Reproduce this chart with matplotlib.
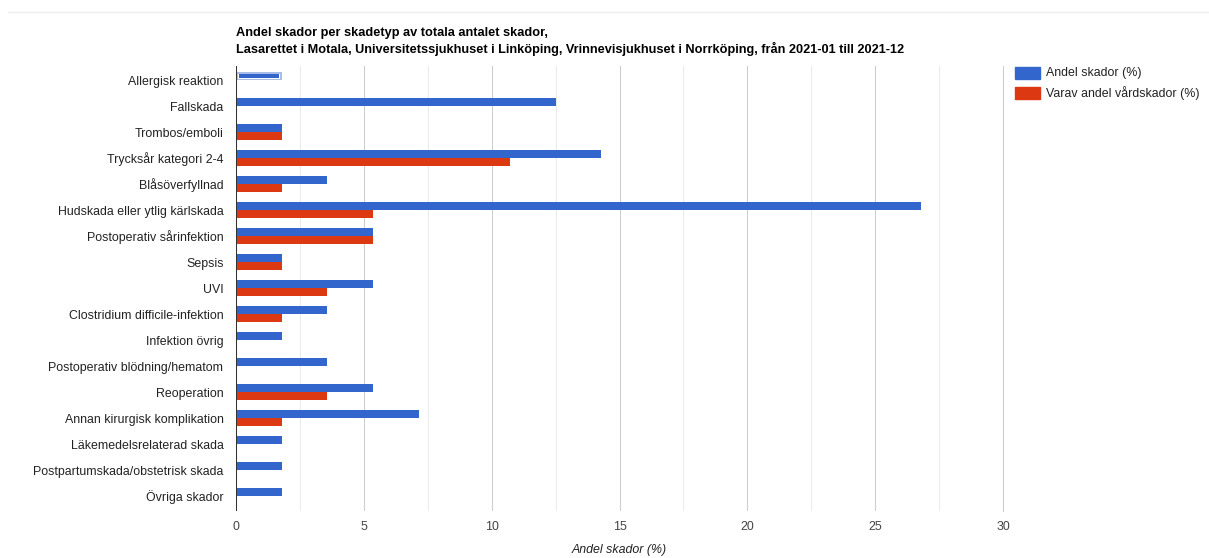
import matplotlib
matplotlib.use("Agg")
import matplotlib.pyplot as plt
from matplotlib.lines import Line2D
import numpy as np

plt.rcParams['font.family'] = ['Liberation Sans', 'DejaVu Sans']

categories = [
    "Allergisk reaktion", "Fallskada", "Trombos/emboli", "Trycksår kategori 2-4",
    "Blåsöverfyllnad", "Hudskada eller ytlig kärlskada", "Postoperativ sårinfektion",
    "Sepsis", "UVI", "Clostridium difficile-infektion", "Infektion övrig",
    "Postoperativ blödning/hematom", "Reoperation", "Annan kirurgisk komplikation",
    "Läkemedelsrelaterad skada", "Postpartumskada/obstetrisk skada", "Övriga skador",
]
andel_skador = [1.79, 12.50, 1.79, 14.29, 3.57, 26.79, 5.36, 1.79, 5.36, 3.57,
                1.79, 3.57, 5.36, 7.14, 1.79, 1.79, 1.79]
varav_vardskador = [0, 0, 1.79, 10.71, 1.79, 5.36, 5.36, 1.79, 3.57, 1.79,
                    0, 0, 3.57, 1.79, 0, 0, 0]
series_names = ["Andel skador (%)", "Varav andel vårdskador (%)"]
x_ticks = [0, 5, 10, 15, 20, 25, 30]
title_lines = ["Andel skador per skadetyp av totala antalet skador,",
               "Lasarettet i Motala, Universitetssjukhuset i Linköping, Vrinnevisjukhuset i Norrköping, från 2021-01 till 2021-12"]
x_title = "Andel skador (%)"

BLUE = "#3366cc"
RED = "#dc3912"

W, H = 1209, 558
fig = plt.figure(figsize=(W / 100, H / 100), dpi=100)
ax = fig.add_axes([236 / W, 1 - 511 / H, (1003 - 236) / W, (511 - 66) / H])

y = np.arange(len(categories))
h = 8 / 26

blue_vals = np.array(andel_skador, dtype=float)
red_vals = np.array(varav_vardskador, dtype=float)
ax.barh(y[1:] - h / 2, blue_vals[1:], height=h, color=BLUE, zorder=3)
# highlighted first bar
ax.barh(y[:1] - h / 2, blue_vals[:1], height=h, color="#aabde8", zorder=3)
ax.barh(y[:1] - h / 2, blue_vals[:1] * 0.93, left=blue_vals[:1] * 0.035,
        height=h * 0.62, color="white", zorder=3.5)
ax.barh(y[:1] - h / 2, blue_vals[:1] * 0.88, left=blue_vals[:1] * 0.06,
        height=h * 0.42, color=BLUE, zorder=4)
mask = red_vals > 0
ax.barh(y[mask] + h / 2, red_vals[mask], height=h, color=RED, zorder=3)

ax.set_xlim(0, 30)
ax.set_ylim(len(categories) - 1 + 0.577, -0.54)

ax.set_xticks(x_ticks)
ax.set_xticks(np.arange(2.5, 30, 5), minor=True)
ax.grid(axis="x", which="major", color="#cccccc", linewidth=0.75, zorder=0)
ax.grid(axis="x", which="minor", color="#ebebeb", linewidth=0.75, zorder=0)
ax.grid(axis="y", visible=False)
ax.axvline(x_ticks[-1], color="#cccccc", linewidth=0.75, zorder=0, clip_on=False)
ax.axvline(0, color="#333333", linewidth=0.75, zorder=5)
for s in ax.spines.values():
    s.set_visible(False)

ax.set_yticks(y)
ax.set_yticklabels(categories, fontsize=8.9, color="#222222")
ax.tick_params(axis="y", length=0, pad=9)
ax.tick_params(axis="x", which="both", length=0, pad=7, labelsize=8.9, labelcolor="#444444")

ax.set_xlabel(x_title, fontsize=8.9, style="italic", color="#222222", labelpad=8)

fig.text(236 / W, 1 - 33 / H, title_lines[0], fontsize=9.15, fontweight="bold",
         color="black", ha="left", va="center")
fig.text(236 / W, 1 - 48.5 / H, title_lines[1], fontsize=9.15, fontweight="bold",
         color="black", ha="left", va="center")

# Legend
for i, (name, col) in enumerate(zip(series_names, [BLUE, RED])):
    yc = 73 + i * 20
    fig.patches.append(plt.Rectangle((1015 / W, 1 - (yc + 6) / H), 25 / W, 12 / H,
                                     transform=fig.transFigure, color=col, figure=fig))
    fig.text(1046 / W, 1 - yc / H, name, fontsize=8.9, color="#222222",
             ha="left", va="center")

# page separator line at top
fig.add_artist(Line2D([8 / W, 1], [1 - 12 / H, 1 - 12 / H], color="#eeeeee",
                      linewidth=1, transform=fig.transFigure))

fig.savefig("out.png", dpi=100, facecolor="white")
